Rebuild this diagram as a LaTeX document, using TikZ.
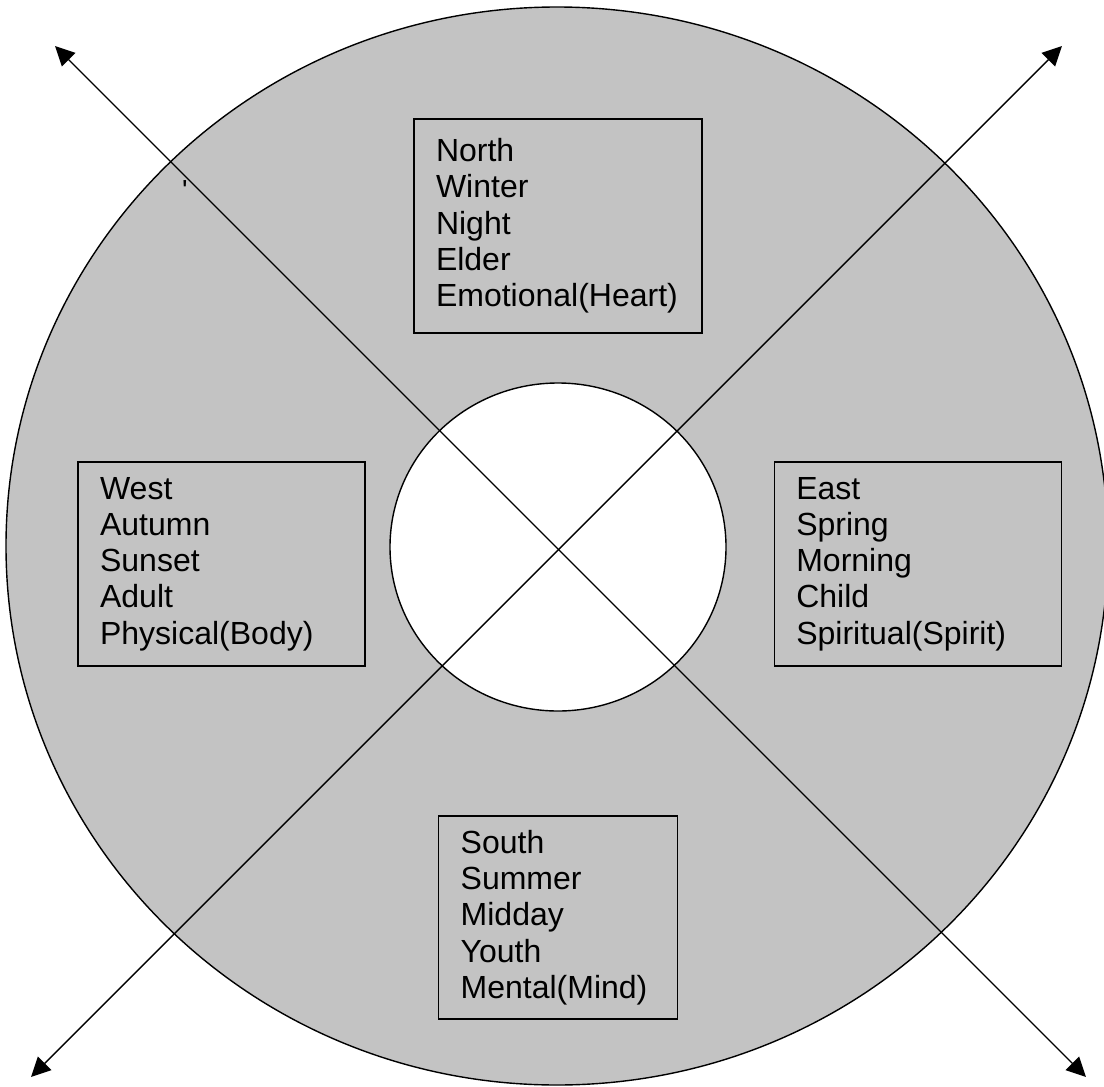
\documentclass[tikz,border=0pt]{standalone}
\usepackage{fontspec}
\setmainfont{Liberation Sans}
\usetikzlibrary{arrows.meta,shapes.geometric}
\definecolor{wheelgray}{RGB}{195,195,195}
\newcommand{\wheelfont}{\fontsize{16}{18.15}\selectfont}

\begin{document}
\begin{tikzpicture}[
  x=0.5pt,y=-0.5pt,
  every node/.style={font=\wheelfont},
  ring/.style={draw,ellipse,line width=0.7pt,inner sep=0pt},
  quarter/.style={draw,line width=0.7pt,inner xsep=11pt,inner ysep=0pt,align=left},
  axis/.style={<->,line width=0.7pt},
  >={Triangle[length=9.7pt,width=9.5pt]}
]
\useasboundingbox (0,0) rectangle (1104,1087);

% outer wheel and hub
\node[ring,fill=wheelgray,minimum width=551pt,minimum height=539pt] (wheel) at (557,546) {};
\node[ring,fill=white,minimum width=168pt,minimum height=164pt] (hub) at (558,547) {};

% the two crossing axes
\coordinate (nw) at (55,46);
\coordinate (ne) at (1062,46);
\coordinate (sw) at (31,1077);
\coordinate (se) at (1086,1077);
\draw[axis] (nw) -- (se);
\draw[axis] (ne) -- (sw);

% the four directions
\node[quarter,text width=122pt,minimum height=107pt] (northbox) at (558,226) {North\\Winter\\Night\\Elder\\Emotional(Heart)};
\node[quarter,text width=121.5pt,minimum height=102pt] (westbox) at (221.6,564) {West\\Autumn\\Sunset\\Adult\\Physical(Body)};
\node[quarter,text width=121.7pt,minimum height=102pt] (eastbox) at (918,564) {East\\Spring\\Morning\\Child\\Spiritual(Spirit)};
\node[quarter,text width=97.3pt,minimum height=101.5pt] (southbox) at (558,917.5) {South\\Summer\\Midday\\Youth\\Mental(Mind)};

\node[inner sep=0pt,anchor=north,font=\fontsize{14.5}{17}\selectfont] (tick) at (185,180) {\textquotesingle};
\end{tikzpicture}
\end{document}
